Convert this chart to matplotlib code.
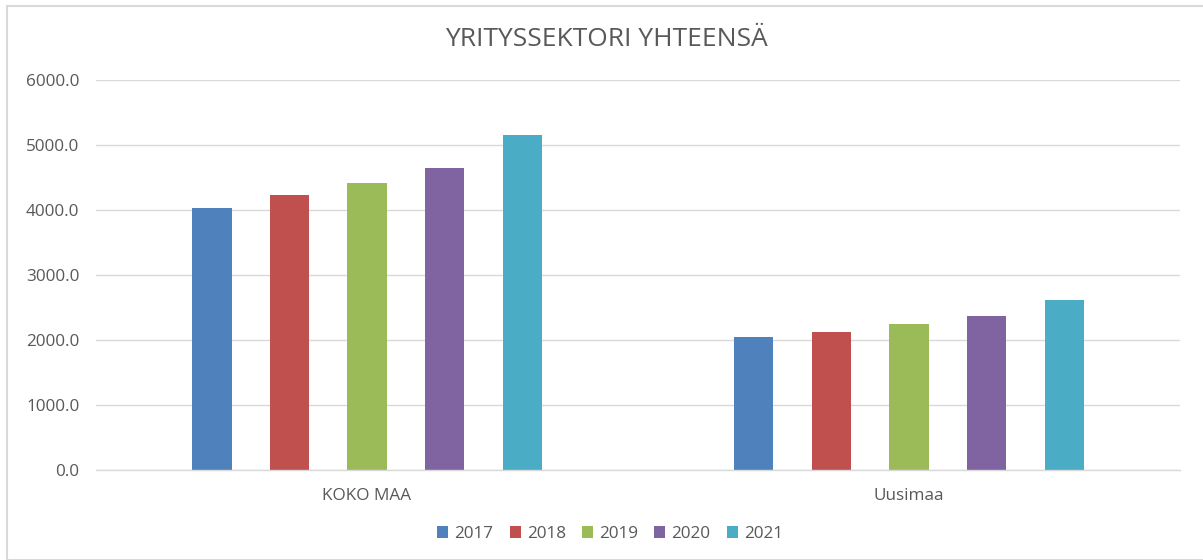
import matplotlib
matplotlib.use("Agg")
import matplotlib.pyplot as plt
import numpy as np
from matplotlib.patches import Rectangle

categories = ["KOKO MAA", "Uusimaa"]
years = ["2017", "2018", "2019", "2020", "2021"]
v2017 = [4035, 2051]
v2018 = [4226, 2128]
v2019 = [4410, 2246]
v2020 = [4646, 2364]
v2021 = [5158, 2620]
series = [v2017, v2018, v2019, v2020, v2021]
colors = ["#4f81bd", "#c0504d", "#9bbb59", "#8064a2", "#4bacc6"]

plt.rcParams['font.family'] = ['Open Sans', 'DejaVu Sans']
text_color = "#595959"
grid_color = "#d9d9d9"

fig = plt.figure(figsize=(12.03, 5.6), dpi=100)
ax = fig.add_axes([96/1203, 1-470/560, (1180-96)/1203, (470-80)/560])

x = np.arange(len(categories))
pitch = 0.143
width = 0.072
for i, (yr, vals, c) in enumerate(zip(years, series, colors)):
    ax.bar(x + (i - 2) * pitch, vals, width=width, color=c, label=yr, zorder=3)

ax.set_xlim(-0.5, 1.5)
ax.set_ylim(0, 6000)
ax.set_yticks(np.arange(0, 6001, 1000))
ax.set_yticklabels([f"{v:.1f}" for v in np.arange(0, 6001, 1000)], color=text_color, fontsize=12.3)
ax.set_xticks(x)
ax.set_xticklabels(categories, color=text_color, fontsize=12.3)
ax.tick_params(axis='both', length=0)
ax.tick_params(axis='y', pad=12)
ax.tick_params(axis='x', pad=13)
ax.grid(axis='y', color=grid_color, linewidth=1, zorder=0)
for s in ["top", "right", "left"]:
    ax.spines[s].set_visible(False)
ax.spines["bottom"].set_color(grid_color)
ax.spines["bottom"].set_linewidth(1)
ax.spines["bottom"].set_zorder(4)

fig.text(606/1203, 1-40/560, "YRITYSSEKTORI YHTEENSÄ", ha="center", va="center",
         fontsize=19, color=text_color)

leg = fig.legend(loc="center", bbox_to_anchor=(610/1203, 1-534/560), ncol=5, frameon=False,
                 fontsize=12.3, handlelength=0.65, handleheight=0.65, handletextpad=0.35,
                 columnspacing=0.95)
for t in leg.get_texts():
    t.set_color(text_color)

fig.patches.append(Rectangle((6.5/1203, 0), 2, 1-5.5/560, transform=fig.transFigure,
                             fill=False, edgecolor=grid_color, linewidth=1.5))

fig.savefig("out.png", dpi=100, facecolor="white")
